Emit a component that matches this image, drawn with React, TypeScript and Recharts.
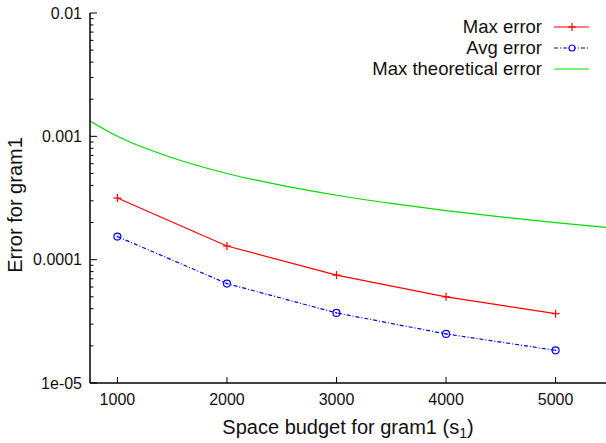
import {
  LineChart, Line, XAxis, YAxis, Legend, Label,
} from "recharts";

const FONT = "'Liberation Sans', Arial, sans-serif";

const budgets = [1000, 2000, 3000, 4000, 5000];
const maxError = [3.16e-4, 1.29e-4, 7.5e-5, 5.0e-5, 3.65e-5];
const avgError = [1.54e-4, 6.4e-5, 3.7e-5, 2.5e-5, 1.84e-5];

const theoryBudgets = [750, 1000, 1500, 2000, 2500, 3000, 3500, 4000, 4500, 5000, 5460];
const theoryError = [1.33e-3, 1.0e-3, 6.7e-4, 5.0e-4, 4.0e-4, 3.33e-4, 2.86e-4, 2.5e-4, 2.22e-4, 2.0e-4, 1.83e-4];

const xTicks = [1000, 2000, 3000, 4000, 5000];
const yMajor = [1e-5, 1e-4, 1e-3, 1e-2];
const yMajorLabels = ["1e-05", "0.0001", "0.001", "0.01"];
const yTicks = [
  1e-5, 2e-5, 3e-5, 4e-5, 5e-5, 6e-5, 7e-5, 8e-5, 9e-5,
  1e-4, 2e-4, 3e-4, 4e-4, 5e-4, 6e-4, 7e-4, 8e-4, 9e-4,
  1e-3, 2e-3, 3e-3, 4e-3, 5e-3, 6e-3, 7e-3, 8e-3, 9e-3,
  1e-2,
];

const maxData = budgets.map((b, i) => ({ x: b, v: maxError[i] }));
const avgData = budgets.map((b, i) => ({ x: b, v: avgError[i] }));
const theoryData = theoryBudgets.map((b, i) => ({ x: b, v: theoryError[i] }));

const RED = "#ff0000";
const BLUE = "#0000ff";
const GREEN = "#00dd00";

const Y_MARGIN = 8;
const X_MARGIN = 8;

function YTick(props: any) {
  const { x, y, payload } = props;
  const idx = yMajor.findIndex((m) => Math.abs(m - payload.value) / m < 1e-6);
  const axisX = x + Y_MARGIN;
  const major = idx >= 0;
  return (
    <g>
      <line x1={axisX} x2={axisX + (major ? 7 : 3.5)} y1={y} y2={y} stroke="#000" strokeWidth={1} />
      {major && (
        <text x={x} y={y} dy={5.5} textAnchor="end" fontSize={16} fontFamily={FONT} fill="#111">
          {yMajorLabels[idx]}
        </text>
      )}
    </g>
  );
}

function XTick(props: any) {
  const { x, y, payload } = props;
  const axisY = y - X_MARGIN;
  return (
    <g>
      <line x1={x} x2={x} y1={axisY} y2={axisY - 6} stroke="#000" strokeWidth={1} />
      <text x={x} y={y} dy={14} textAnchor="middle" fontSize={16} fontFamily={FONT} fill="#111">
        {payload.value}
      </text>
    </g>
  );
}

function TopTick(props: any) {
  const { x, y } = props;
  return <line x1={x} x2={x} y1={y} y2={y + 6} stroke="#000" strokeWidth={1} />;
}

function PlusDot(props: any) {
  const { cx, cy } = props;
  if (cx == null || cy == null) return null;
  return (
    <g stroke={RED} strokeWidth={1.2}>
      <line x1={cx - 4} x2={cx + 4} y1={cy} y2={cy} />
      <line x1={cx} x2={cx} y1={cy - 4} y2={cy + 4} />
    </g>
  );
}

function CircleDot(props: any) {
  const { cx, cy } = props;
  if (cx == null || cy == null) return null;
  return (
    <g>
      <circle cx={cx} cy={cy} r={3.5} fill="none" stroke={BLUE} strokeWidth={1.2} />
      <circle cx={cx} cy={cy} r={0.8} fill={BLUE} />
    </g>
  );
}

const legendItems = [
  { label: "Max error", color: RED, dash: undefined, marker: "plus" },
  { label: "Avg error", color: BLUE, dash: "4 2 1 2", marker: "circle" },
  { label: "Max theoretical error", color: GREEN, dash: undefined, marker: "none" },
];

function LegendBox() {
  return (
    <div style={{ fontFamily: FONT, fontSize: 18.5, color: "#111" }}>
      {legendItems.map((it) => (
        <div key={it.label} style={{ display: "flex", alignItems: "center", justifyContent: "flex-end", height: 21 }}>
          <span style={{ marginRight: 12, whiteSpace: "nowrap" }}>{it.label}</span>
          <svg width={36} height={10}>
            <line x1={0} x2={35} y1={5} y2={5} stroke={it.color} strokeWidth={1.2} strokeDasharray={it.dash} />
            {it.marker === "plus" && (
              <g stroke={it.color} strokeWidth={1.2}>
                <line x1={14} x2={22} y1={5} y2={5} />
                <line x1={18} x2={18} y1={1} y2={9} />
              </g>
            )}
            {it.marker === "circle" && (
              <circle cx={18} cy={5} r={3} fill="#fff" stroke={it.color} strokeWidth={1.2} />
            )}
          </svg>
        </div>
      ))}
    </div>
  );
}

function XLabel(props: any) {
  const { viewBox } = props;
  const cx = viewBox.x + viewBox.width / 2;
  return (
    <text x={cx} y={434} textAnchor="middle" fontSize={20} fontFamily={FONT} fill="#111">
      Space budget for gram1 (s
      <tspan fontSize={14} dy={4}>1</tspan>
      <tspan dy={-4}>)</tspan>
    </text>
  );
}

export default function App() {
  return (
    <div style={{ position: "absolute", left: 0, top: 0, background: "#fff" }}>
      <LineChart
        width={606}
        height={443}
        margin={{ top: 13, right: 0, bottom: 0, left: 0 }}
      >
        <XAxis
          dataKey="x"
          type="number"
          domain={[750, 5460]}
          allowDataOverflow
          ticks={xTicks}
          tick={<XTick />}
          tickLine={false}
          tickSize={0}
          tickMargin={X_MARGIN}
          height={60}
          axisLine={{ stroke: "#000", strokeWidth: 1.5 }}
        >
          <Label content={<XLabel />} />
        </XAxis>
        <XAxis
          xAxisId="top"
          orientation="top"
          dataKey="x"
          type="number"
          domain={[750, 5460]}
          allowDataOverflow
          ticks={xTicks}
          tick={<TopTick />}
          tickLine={false}
          tickSize={0}
          tickMargin={0}
          height={0}
          axisLine={{ stroke: "#000", strokeWidth: 1.5 }}
        />
        <YAxis
          scale="log"
          type="number"
          domain={[1e-5, 1e-2]}
          allowDataOverflow
          ticks={yTicks}
          interval={0}
          tick={<YTick />}
          tickLine={false}
          tickSize={0}
          tickMargin={Y_MARGIN}
          width={90}
          axisLine={{ stroke: "#000", strokeWidth: 1.5 }}
        >
          <Label
            value="Error for gram1"
            angle={-90}
            position="insideLeft"
            offset={0}
            dx={15}
            dy={7}
            style={{ fontSize: 20, fontFamily: FONT, fill: "#111", textAnchor: "middle" }}
          />
        </YAxis>
        <Legend
          layout="vertical"
          align="center"
          verticalAlign="middle"
          content={<LegendBox />}
          wrapperStyle={{ top: 16, right: 16, left: "auto", width: "auto" }}
        />
        <Line
          data={theoryData}
          dataKey="v"
          type="monotone"
          stroke={GREEN}
          strokeWidth={1.2}
          dot={false}
          activeDot={false}
          isAnimationActive={false}
        />
        <Line
          data={maxData}
          dataKey="v"
          type="linear"
          stroke={RED}
          strokeWidth={1.2}
          dot={<PlusDot />}
          activeDot={false}
          isAnimationActive={false}
        />
        <Line
          data={avgData}
          dataKey="v"
          type="linear"
          stroke={BLUE}
          strokeWidth={1.2}
          strokeDasharray="4 2 1 2"
          dot={<CircleDot />}
          activeDot={false}
          isAnimationActive={false}
        />
      </LineChart>
    </div>
  );
}
